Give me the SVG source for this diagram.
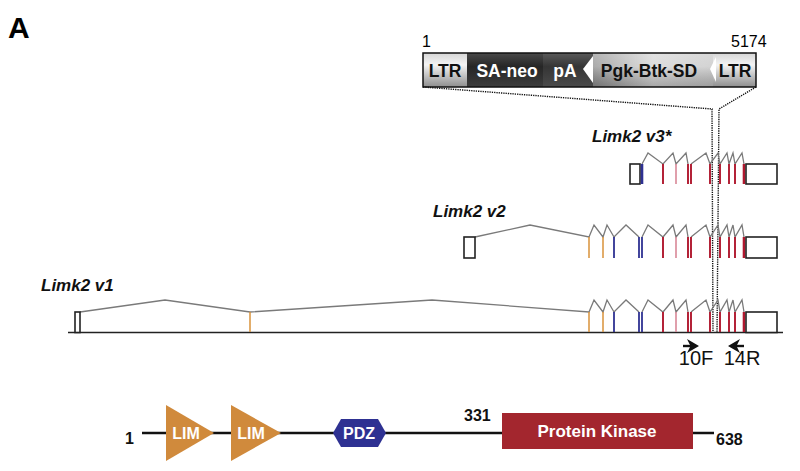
<svg xmlns="http://www.w3.org/2000/svg" width="800" height="471" viewBox="0 0 800 471">
<defs>
<linearGradient id="gLtr" x1="0" y1="0" x2="0" y2="1">
<stop offset="0" stop-color="#d6d6d6"/><stop offset="0.35" stop-color="#f4f4f4"/><stop offset="1" stop-color="#8e8e8e"/>
</linearGradient>
<linearGradient id="gDark" x1="0" y1="0" x2="0" y2="1">
<stop offset="0" stop-color="#4a4a4a"/><stop offset="0.4" stop-color="#262626"/><stop offset="1" stop-color="#3c3c3c"/>
</linearGradient>
<linearGradient id="gPa" x1="0" y1="0" x2="0" y2="1">
<stop offset="0" stop-color="#5a5a5a"/><stop offset="0.4" stop-color="#353535"/><stop offset="1" stop-color="#4a4a4a"/>
</linearGradient>
<linearGradient id="gPgk" x1="0" y1="0" x2="1" y2="0">
<stop offset="0" stop-color="#8e8e8e"/><stop offset="0.5" stop-color="#d2d2d2"/><stop offset="1" stop-color="#c4c4c4"/>
</linearGradient>
<linearGradient id="gPgkV" x1="0" y1="0" x2="0" y2="1">
<stop offset="0" stop-color="#ffffff" stop-opacity="0.35"/><stop offset="0.4" stop-color="#ffffff" stop-opacity="0.25"/><stop offset="1" stop-color="#000000" stop-opacity="0.2"/>
</linearGradient>
</defs>
<style>
text{font-family:"Liberation Sans",Arial,sans-serif;}
.lbl{font-weight:bold;font-style:italic;font-size:17px;fill:#111;}
.cas{font-weight:bold;font-size:17.5px;text-anchor:middle;}
.intron{fill:none;stroke:#7a7a7a;stroke-width:1.3;stroke-linejoin:miter;}
.o{stroke:#d8923a;stroke-width:1.5;}
.b{stroke:#2e3192;stroke-width:1.8;}
.r{stroke:#b0182e;stroke-width:1.9;}
.rt{stroke:#b0182e;stroke-width:2.6;}
.p{stroke:#d98797;stroke-width:1.6;}
.box{fill:#fff;stroke:#222;stroke-width:1.6;}
.dot{fill:none;stroke:#111;stroke-width:1.4;stroke-dasharray:1.3 1;}
.dom{font-weight:bold;fill:#fff;text-anchor:middle;}
.num{font-weight:bold;font-size:16px;fill:#111;}
.primer{font-size:20px;text-anchor:middle;fill:#111;}
</style>

<g id="panel-label"><text x="8" y="38" font-size="30" font-weight="bold">A</text></g>

<g id="cassette">
<text x="422" y="47" font-size="16">1</text>
<text x="731" y="47" font-size="16">5174</text>
<rect x="423" y="53" width="44" height="34" fill="url(#gLtr)"/>
<rect x="467" y="53" width="76" height="34" fill="url(#gDark)"/>
<rect x="543" y="53" width="50" height="34" fill="url(#gPa)"/>
<rect x="593" y="53" width="120" height="34" fill="url(#gPgk)"/>
<rect x="593" y="53" width="120" height="34" fill="url(#gPgkV)"/>
<rect x="713" y="53" width="43" height="34" fill="url(#gLtr)"/>
<polygon points="583,69 593,56 593,83" fill="#fff"/>
<polygon points="710,69 716,57 716,82" fill="#fff"/>
<rect x="423" y="53" width="333" height="34" fill="none" stroke="#111" stroke-width="1.5"/>
<text class="cas" x="445" y="77" fill="#111">LTR</text>
<text class="cas" x="507" y="77" fill="#fff">SA-neo</text>
<text class="cas" x="565" y="77" fill="#fff">pA</text>
<text class="cas" x="649" y="77" fill="#111">Pgk-Btk-SD</text>
<text class="cas" x="735" y="77" fill="#111">LTR</text>
</g>

<g id="connectors">
<polyline class="dot" points="423,87 712,109 713,333"/>
<polyline class="dot" points="756,87 719,109 717,333"/>
</g>

<g id="v3">
<text class="lbl" x="592" y="142">Limk2 v3*</text>
<path class="intron" d="M642,164 L648,153 L663,164 L673,153 L676,164 L686,153 L688,164 M691,164 L706,153 L710,164 L718,153 L720,164 L727,153 L729,164 L733,153 L735,164 L742,153 L744,164"/>
<rect class="box" x="630" y="164" width="10" height="20"/>
<g>
<line class="b" x1="642" y1="164" x2="642" y2="184" style="stroke-width:2.6"/>
<line class="r" x1="663" y1="164" x2="663" y2="184"/>
<line class="p" x1="676" y1="164" x2="676" y2="184"/>
<line class="r" x1="688" y1="164" x2="688" y2="184"/>
<line class="r" x1="691" y1="164" x2="691" y2="184"/>
<line class="r" x1="710" y1="164" x2="710" y2="184"/>
<line class="r" x1="720" y1="164" x2="720" y2="184"/>
<line class="r" x1="729" y1="164" x2="729" y2="184"/>
<line class="r" x1="735" y1="164" x2="735" y2="184"/>
<line class="rt" x1="744" y1="164" x2="744" y2="184"/>
</g>
<rect class="box" x="746" y="164" width="31" height="20"/>
</g>

<g id="v2">
<text class="lbl" x="433" y="217">Limk2 v2</text>
<path class="intron" d="M475,237 L530,225 L589,237 L594,225 L603,237 L607,225 L614,237 L626,225 L639,237 M642,237 L648,225 L663,237 L673,225 L676,237 L686,225 L688,237 M691,237 L706,225 L710,237 L718,225 L720,237 L727,225 L729,237 L733,225 L735,237 L742,225 L744,237"/>
<rect class="box" x="464" y="237" width="11" height="21"/>
<g>
<line class="o" x1="589" y1="237" x2="589" y2="258"/>
<line class="o" x1="603" y1="237" x2="603" y2="258"/>
<line class="b" x1="614" y1="237" x2="614" y2="258"/>
<line class="b" x1="639" y1="237" x2="639" y2="258"/>
<line class="b" x1="642" y1="237" x2="642" y2="258"/>
<line class="r" x1="663" y1="237" x2="663" y2="258"/>
<line class="p" x1="676" y1="237" x2="676" y2="258"/>
<line class="r" x1="688" y1="237" x2="688" y2="258"/>
<line class="r" x1="691" y1="237" x2="691" y2="258"/>
<line class="r" x1="710" y1="237" x2="710" y2="258"/>
<line class="r" x1="720" y1="237" x2="720" y2="258"/>
<line class="r" x1="729" y1="237" x2="729" y2="258"/>
<line class="r" x1="735" y1="237" x2="735" y2="258"/>
<line class="rt" x1="744" y1="237" x2="744" y2="258"/>
</g>
<rect class="box" x="746" y="237" width="31" height="21"/>
</g>

<g id="v1">
<text class="lbl" x="41" y="291">Limk2 v1</text>
<line x1="68" y1="332.5" x2="783" y2="332.5" stroke="#222" stroke-width="1.6"/>
<path class="intron" d="M80,312 L165,300 L250,312 L432,300 L589,312 L594,300 L603,312 L607,300 L614,312 L626,300 L639,312 M642,312 L648,300 L663,312 L673,300 L676,312 L686,300 L688,312 M691,312 L706,300 L710,312 L718,300 L720,312 L727,300 L729,312 L733,300 L735,312 L742,300 L744,312"/>
<rect class="box" x="75" y="312" width="5" height="20.5"/>
<g>
<line class="o" x1="250" y1="312" x2="250" y2="332"/>
<line class="o" x1="589" y1="312" x2="589" y2="332"/>
<line class="o" x1="603" y1="312" x2="603" y2="332"/>
<line class="b" x1="614" y1="312" x2="614" y2="332"/>
<line class="b" x1="639" y1="312" x2="639" y2="332"/>
<line class="b" x1="642" y1="312" x2="642" y2="332"/>
<line class="r" x1="663" y1="312" x2="663" y2="332"/>
<line class="p" x1="676" y1="312" x2="676" y2="332"/>
<line class="r" x1="688" y1="312" x2="688" y2="332"/>
<line class="r" x1="691" y1="312" x2="691" y2="332"/>
<line class="r" x1="710" y1="312" x2="710" y2="332"/>
<line class="r" x1="720" y1="312" x2="720" y2="332"/>
<line class="r" x1="729" y1="312" x2="729" y2="332"/>
<line class="r" x1="735" y1="312" x2="735" y2="332"/>
<line class="rt" x1="744" y1="312" x2="744" y2="332"/>
</g>
<rect class="box" x="746" y="312" width="31" height="20.5"/>
</g>

<g id="primer-10F">
<line x1="683" y1="346" x2="692" y2="346" stroke="#111" stroke-width="2.4"/>
<polygon points="699,346 687,339 690.5,346 687,353" fill="#111"/>
<text class="primer" x="696" y="365">10F</text>
</g>
<g id="primer-14R">
<line x1="744" y1="346" x2="735" y2="346" stroke="#111" stroke-width="2.4"/>
<polygon points="728,346 740,339 736.5,346 740,353" fill="#111"/>
<text class="primer" x="742" y="365">14R</text>
</g>

<g id="protein-backbone">
<line x1="142" y1="433" x2="714" y2="433" stroke="#111" stroke-width="2.6"/>
<text class="num" x="125" y="444">1</text>
<text class="num" x="464" y="421">331</text>
<text class="num" x="716" y="445">638</text>
</g>
<g id="lim1">
<polygon points="166,405 166,461 214,433" fill="#d08a3c"/>
<text class="dom" x="186" y="439" font-size="16">LIM</text>
</g>
<g id="lim2">
<polygon points="231,405 231,461 281,433" fill="#d08a3c"/>
<text class="dom" x="251" y="439" font-size="16">LIM</text>
</g>
<g id="pdz">
<polygon points="333,433 341,419 378,419 386,433 378,447 341,447" fill="#2e3192"/>
<text class="dom" x="359" y="439" font-size="16">PDZ</text>
</g>
<g id="kinase">
<rect x="502" y="413" width="191" height="36" fill="#a3262e"/>
<text class="dom" x="597" y="437" font-size="17">Protein Kinase</text>
</g>
</svg>
